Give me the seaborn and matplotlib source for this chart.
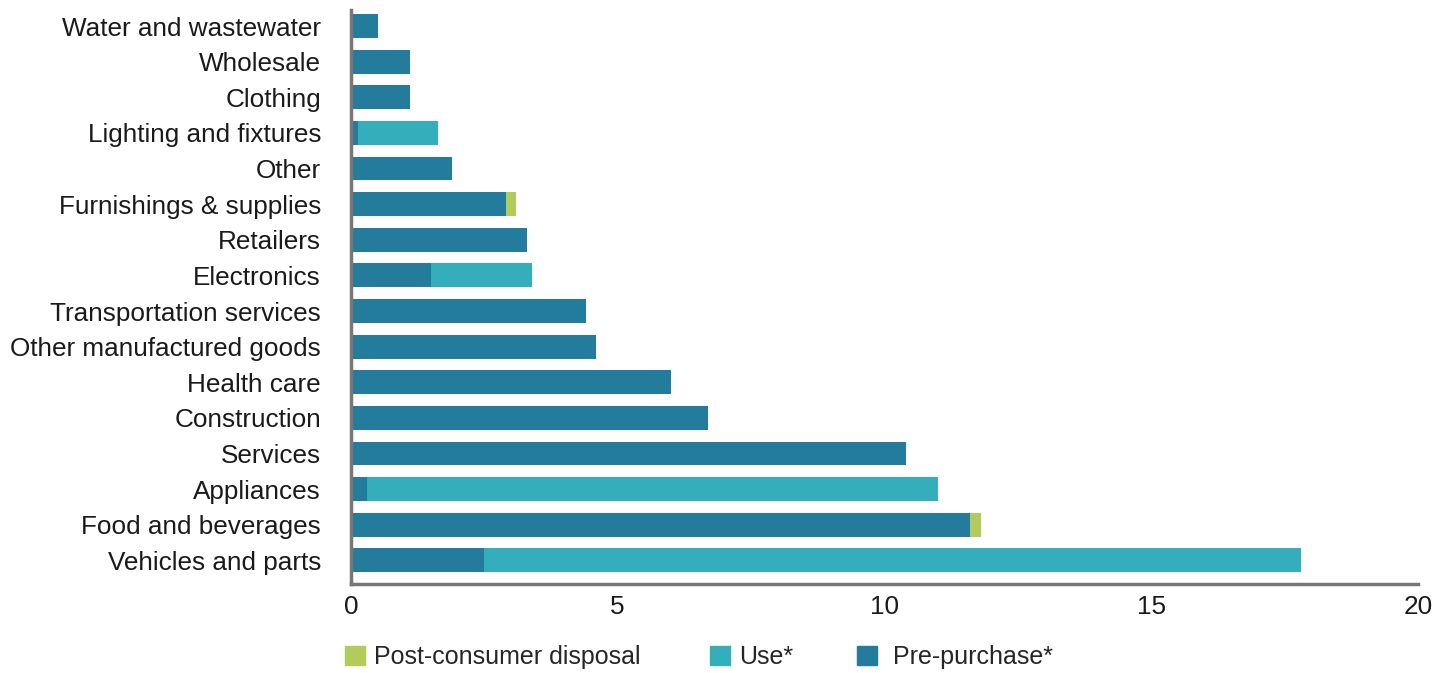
import numpy as np
import pandas as pd
import matplotlib
matplotlib.use('Agg')
import matplotlib.pyplot as plt
import seaborn as sns
from matplotlib.patches import Patch

# categories, top to bottom
categories = ['Water and wastewater', 'Wholesale', 'Clothing', 'Lighting and fixtures',
              'Other', 'Furnishings & supplies', 'Retailers', 'Electronics',
              'Transportation services', 'Other manufactured goods', 'Health care',
              'Construction', 'Services', 'Appliances', 'Food and beverages',
              'Vehicles and parts']
pre_purchase = [0.5, 1.1, 1.1, 0.13, 1.9, 2.9, 3.3, 1.5, 4.4, 4.6, 6.0, 6.7, 10.4, 0.3, 11.6, 2.5]
use_phase = [0, 0, 0, 1.5, 0, 0, 0, 1.9, 0, 0, 0, 0, 0, 10.7, 0, 15.3]
post_disposal = [0, 0, 0, 0, 0, 0.2, 0, 0, 0, 0, 0, 0, 0, 0, 0.2, 0]
x_ticks = [0, 5, 10, 15, 20]

c_pre = '#237c9c'
c_use = '#35aebb'
c_post = '#b2cb5a'

df = pd.DataFrame({'cat': categories, 'pre': pre_purchase,
                   'use': use_phase, 'post': post_disposal})
df['pre_use'] = df['pre'] + df['use']
df['total'] = df['pre_use'] + df['post']

sns.set_theme(style='white')
plt.rcParams['font.family'] = ['Liberation Sans', 'DejaVu Sans']
fs = 18.8

fig = plt.figure(figsize=(14.5, 6.73), dpi=100)
ax = fig.add_axes([0.242, 0.132, 0.736, 0.853])

# stack by overdrawing cumulative totals
for col, c in [('total', c_post), ('pre_use', c_use), ('pre', c_pre)]:
    sns.barplot(data=df, x=col, y='cat', color=c, width=0.67, saturation=1,
                linewidth=0, ax=ax)

ax.set_xlim(0, 20)
ax.set_ylim(15.67, -0.45)
ax.set_xticks(x_ticks)
ax.set_xticklabels([str(t) for t in x_ticks])
ax.set_xlabel('')
ax.set_ylabel('')
ax.tick_params(axis='both', length=0, labelsize=fs, colors='#1a1a1a')
ax.tick_params(axis='x', pad=8)
ax.tick_params(axis='y', pad=21.5)

for s in ['top', 'right']:
    ax.spines[s].set_visible(False)
for s in ['left', 'bottom']:
    ax.spines[s].set_color('#777777')
    ax.spines[s].set_linewidth(2.5)

# legend entries placed one by one like the original
legend_items = [(c_post, 'Post-consumer disposal', 345),
                (c_use, 'Use*', 710),
                (c_pre, ' Pre-purchase*', 857)]
for c, lab, xp in legend_items:
    fig.legend(handles=[Patch(color=c, label=lab)], loc='center left',
               bbox_to_anchor=(xp / 1450, 0.024), frameon=False, fontsize=18,
               handlelength=0.8, handleheight=0.8, handletextpad=0.35,
               borderpad=0, borderaxespad=0)

fig.savefig('out.png', dpi=100)
